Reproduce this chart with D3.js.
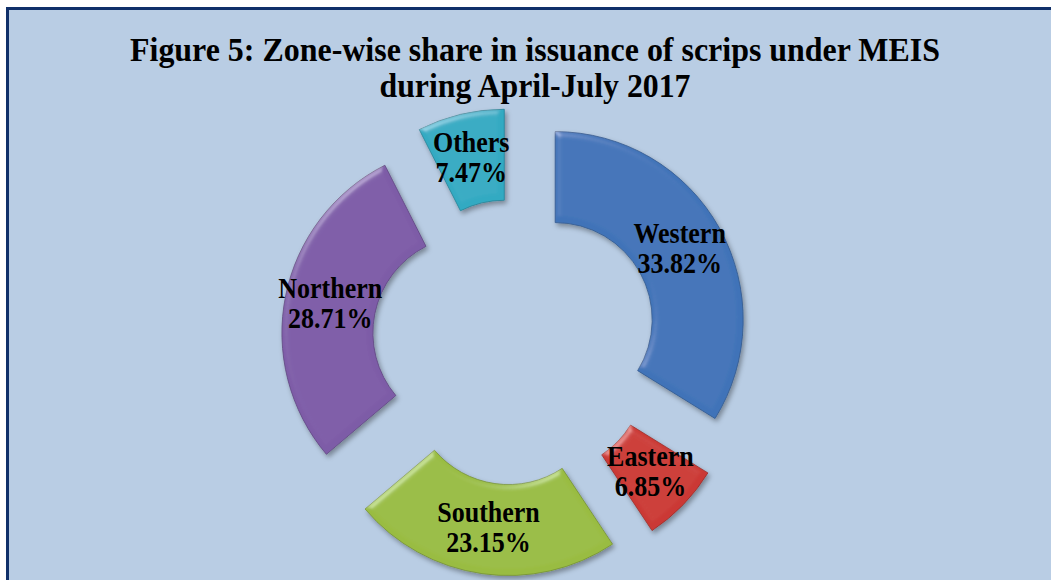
<!DOCTYPE html>
<meta charset="utf-8">
<title>Zone-wise share in issuance of scrips under MEIS</title>
<style>
  body {
    margin: 0;
    padding: 0;
    overflow: hidden;
    background-color: #fff;
  }

  svg {
    display: block;
  }

  .title {
    font-family: "Liberation Serif", "Times New Roman", serif;
    font-weight: bold;
    font-size: 33px;
    fill: #000;
  }

  .label {
    font-family: "Liberation Serif", "Times New Roman", serif;
    font-weight: bold;
    font-size: 26px;
    fill: #000;
  }
</style>

<body>
  <script src="https://cdn.jsdelivr.net/npm/d3@7"></script>
  <script>
    // zones, clockwise from 12 o'clock
    var zones = ["Western", "Eastern", "Southern", "Northern", "Others"];
    var shares = [33.82, 6.85, 23.15, 28.71, 7.47];
    var zoneColors = ["#4479c2", "#d63c37", "#a1c646", "#8460b0", "#35b3cd"];
    var titleLines = ["Figure 5: Zone-wise share in issuance of scrips under MEIS", "during April-July 2017"];

    var width = 1051,
      height = 580;

    var cx = 515, cy = 342,
      outerR = 188, innerR = 97,
      explode = 46;

    var svg = d3.select("body").append("svg")
      .attr("width", width)
      .attr("height", height);

    var defs = svg.append("defs");

    // bevel + soft shadow, roughly like the office "3d" slice look
    var f = defs.append("filter").attr("id", "bevel")
      .attr("x", "-10%").attr("y", "-10%").attr("width", "125%").attr("height", "125%");
    f.append("feGaussianBlur").attr("in", "SourceAlpha").attr("stdDeviation", 3).attr("result", "blur");
    var spec = f.append("feSpecularLighting").attr("in", "blur")
      .attr("surfaceScale", 3).attr("specularConstant", 0.5).attr("specularExponent", 25)
      .attr("lighting-color", "#ffffff").attr("result", "spec");
    spec.append("feDistantLight").attr("azimuth", 235).attr("elevation", 35);
    f.append("feComposite").attr("in", "spec").attr("in2", "SourceAlpha").attr("operator", "in").attr("result", "specIn");
    f.append("feComposite").attr("in", "SourceGraphic").attr("in2", "specIn").attr("operator", "arithmetic")
      .attr("k1", 0).attr("k2", 1).attr("k3", 0.45).attr("k4", 0).attr("result", "lit");
    f.append("feGaussianBlur").attr("in", "SourceAlpha").attr("stdDeviation", 2.5).attr("result", "sblur");
    f.append("feOffset").attr("in", "sblur").attr("dx", 2).attr("dy", 3).attr("result", "soff");
    f.append("feFlood").attr("flood-color", "#000").attr("flood-opacity", 0.35).attr("result", "sfl");
    f.append("feComposite").attr("in", "sfl").attr("in2", "soff").attr("operator", "in").attr("result", "shadow");
    var merge = f.append("feMerge");
    merge.append("feMergeNode").attr("in", "shadow");
    merge.append("feMergeNode").attr("in", "lit");

    zoneColors.forEach(function (c, i) {
      var g = defs.append("radialGradient").attr("id", "grad" + i)
        .attr("gradientUnits", "userSpaceOnUse")
        .attr("cx", cx).attr("cy", cy).attr("r", outerR + explode);
      g.append("stop").attr("offset", "35%").attr("stop-color", d3.color(c).brighter(0.1));
      g.append("stop").attr("offset", "100%").attr("stop-color", d3.color(c).darker(0.15));
    });

    // background panel
    svg.append("rect")
      .attr("x", 7.5).attr("y", 8.5)
      .attr("width", width).attr("height", height)
      .attr("fill", "#b9cde4")
      .attr("stroke", "#10306a")
      .attr("stroke-width", 3);

    // title
    var titleLengths = [810, 311];
    svg.append("g").selectAll("text").data(titleLines)
      .enter().append("text")
      .attr("class", "title")
      .attr("x", 535)
      .attr("y", (d, i) => 61 + i * 36)
      .attr("text-anchor", "middle")
      .attr("textLength", (d, i) => titleLengths[i])
      .attr("lengthAdjust", "spacingAndGlyphs")
      .text(d => d);

    var data = zones.map((z, i) => ({ zone: z, share: shares[i], color: zoneColors[i], idx: i }));

    var pie = d3.pie().sort(null).value(d => d.share);
    var arc = d3.arc().innerRadius(innerR).outerRadius(outerR);
    var arcs = pie(data);

    function offset(d) {
      var a = (d.startAngle + d.endAngle) / 2;
      return [cx + explode * Math.sin(a), cy - explode * Math.cos(a)];
    }

    var slices = svg.append("g").attr("class", "slices")
      .selectAll("g").data(arcs)
      .enter().append("g")
      .attr("transform", d => "translate(" + offset(d) + ")");

    slices.append("path")
      .attr("d", arc)
      .attr("fill", d => "url(#grad" + d.data.idx + ")")
      .attr("stroke", d => d3.color(d.data.color).darker(0.9))
      .attr("stroke-width", 0.8)
      .attr("stroke-linejoin", "round")
      .attr("filter", "url(#bevel)");

    var labels = slices.append("g")
      .attr("transform", d => {
        var c = arc.centroid(d);
        return "translate(" + c[0] + "," + c[1] + ")";
      });

    labels.append("text")
      .attr("class", "label")
      .attr("text-anchor", "middle")
      .attr("transform", "translate(0,-7) scale(1,1.1)")
      .text(d => d.data.zone);

    labels.append("text")
      .attr("class", "label")
      .attr("text-anchor", "middle")
      .attr("transform", "translate(0,23) scale(1,1.1)")
      .text(d => d.data.share.toFixed(2) + "%");
  </script>
</body>
